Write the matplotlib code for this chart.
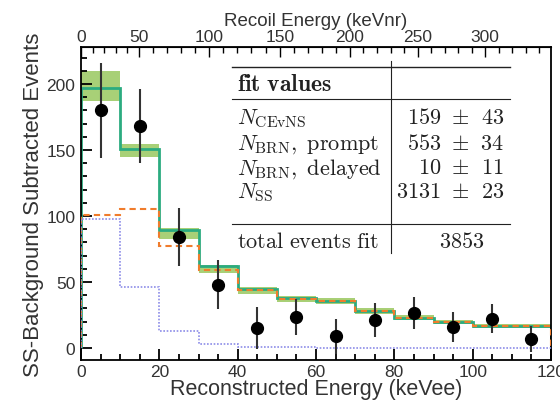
import numpy as np
import matplotlib.pyplot as plt
from matplotlib.ticker import MultipleLocator, FixedLocator
from matplotlib.lines import Line2D

plt.rcParams['font.family'] = ['Liberation Sans', 'DejaVu Sans']
plt.rcParams['mathtext.fontset'] = 'cm'

# ----- data -----
bin_edges = np.arange(0, 130, 10)
bin_centers = bin_edges[:-1] + 5

data_counts = [180, 168, 84, 48, 15.5, 23.8, 8.8, 21.3, 26.8, 16.3, 22.3, 6.8]
data_err = [36, 28, 22, 18.5, 16, 13.7, 13, 13, 12, 11.3, 11, 10]

total_fit = [197, 151, 89.5, 62, 45, 37.6, 35.6, 28, 23, 19.8, 16.8, 16.8]
band_lo = [187, 145, 82.7, 57, 41.3, 34.8, 33.4, 26, 21, 18, 15, 15]
band_hi = [210, 154.5, 91, 63, 46.5, 39.5, 37.6, 30, 25, 21.6, 18.6, 18.6]
brn_fit = [101, 105.5, 77, 59, 44, 37, 35.3, 27.8, 22.9, 19.7, 16.7, 16.7]
cevns_fit = [98, 46, 12.6, 3.2, 0.9, 0.5, 0.3, 0.2, 0.1, 0.1, 0.1, 0.1]

# keVnr <-> keVee conversion for the top axis
enr_table = [0, 50, 100, 150, 200, 250, 300, 350, 400]
eee_table = [0, 14.8, 32.6, 50.8, 68.6, 86.0, 103.2, 120.4, 137.6]
enr_major = [0, 50, 100, 150, 200, 250, 300]
enr_minor = list(range(0, 350, 10))

fit_rows = [r"$N_{\mathrm{CEvNS}}$", r"$N_{\mathrm{BRN}}\mathrm{,\ prompt}$",
            r"$N_{\mathrm{BRN}}\mathrm{,\ delayed}$", r"$N_{\mathrm{SS}}$"]
fit_vals = ["159", "553", "10", "3131"]
fit_errs = ["43", "34", "11", "23"]
total_events = "3853"
# -----------------

W, H = 560, 406
fig = plt.figure(figsize=(W / 100, H / 100), dpi=100)
ax = fig.add_axes([81 / W, 1 - 361 / H, 470 / W, 313 / H])

ax.stairs(band_hi, bin_edges, baseline=band_lo, fill=True,
          color='#9fcb68', alpha=0.9, zorder=1)
ax.stairs(total_fit, bin_edges, color='#2bab80', lw=2.0, zorder=2)
ax.stairs(brn_fit, bin_edges, color='#f07c2c', lw=1.5, ls=(0, (3, 2)), zorder=3)
ax.stairs(cevns_fit, bin_edges, color='#8c8ce8', lw=1.2, ls=(0, (1, 1)), zorder=3)

ax.errorbar(bin_centers, data_counts, yerr=data_err, fmt='o', color='black',
            ms=8.5, ecolor='#333333', elinewidth=1.5, capsize=0, zorder=4)

ax.set_xlim(0, 120)
ax.set_ylim(-9, 228)

tick_col = '#333333'
ax.xaxis.set_major_locator(MultipleLocator(20))
ax.xaxis.set_minor_locator(MultipleLocator(5))
ax.yaxis.set_major_locator(MultipleLocator(50))
ax.yaxis.set_minor_locator(MultipleLocator(10))
ax.tick_params(which='both', direction='in', top=False, right=False,
               width=1.3, colors='black', labelcolor=tick_col, labelsize=12.5)
ax.tick_params(which='major', length=8)
ax.tick_params(which='minor', length=4)
ax.tick_params(axis='x', pad=3)
ax.tick_params(axis='y', pad=4)
for s in ax.spines.values():
    s.set_linewidth(1.3)

ax.set_xlabel("Reconstructed Energy (keVee)", fontsize=15.5, color=tick_col, labelpad=-1)
ax.set_ylabel("SS-Background Subtracted Events", fontsize=16, color=tick_col, labelpad=2)


def eee_to_enr(x):
    return np.interp(x, eee_table, enr_table)


def enr_to_eee(x):
    return np.interp(x, enr_table, eee_table)


top = ax.secondary_xaxis('top', functions=(eee_to_enr, enr_to_eee))
top.xaxis.set_major_locator(FixedLocator(enr_major))
top.xaxis.set_minor_locator(FixedLocator(enr_minor))
top.tick_params(which='both', direction='in', width=1.0,
                labelcolor=tick_col, labelsize=12.5, pad=2)
top.tick_params(which='major', length=7)
top.tick_params(which='minor', length=4)
top.set_xlabel("Recoil Energy (keVnr)", fontsize=13.5, color=tick_col, labelpad=3)


# fit values table, placed in pixel coordinates
def fx(px):
    return px / W


def fy(py):
    return 1 - py / H


tcol = '#222222'
x0, x1, xv = 232, 510, 391
for yy, lw in [(68, 1.0), (100, 0.8), (225, 0.8)]:
    fig.add_artist(Line2D([fx(x0), fx(x1)], [fy(yy), fy(yy)], color=tcol, lw=lw))
fig.add_artist(Line2D([fx(xv), fx(xv)], [fy(62), fy(254)], color=tcol, lw=0.8))

fs = 16
fig.text(fx(237), fy(85), r"$\mathbf{fit\ values}$", fontsize=fs + 1, color=tcol, va='center')
row_y = [119, 145, 169, 193]
for yy, lab, v, e in zip(row_y, fit_rows, fit_vals, fit_errs):
    fig.text(fx(237), fy(yy), lab, fontsize=fs, color=tcol, va='center')
    fig.text(fx(441), fy(yy), "$" + v + "$", fontsize=fs, color=tcol,
             va='center', ha='right')
    fig.text(fx(451), fy(yy), r"$\pm$", fontsize=fs, color=tcol,
             va='center', ha='left')
    fig.text(fx(504), fy(yy), "$" + e + "$", fontsize=fs, color=tcol,
             va='center', ha='right')
fig.text(fx(237), fy(242), r"$\mathrm{total\ events\ fit}$", fontsize=fs,
         color=tcol, va='center')
fig.text(fx(462), fy(242), "$" + total_events + "$", fontsize=fs, color=tcol,
         va='center', ha='center')

fig.savefig("out.png", dpi=100)
